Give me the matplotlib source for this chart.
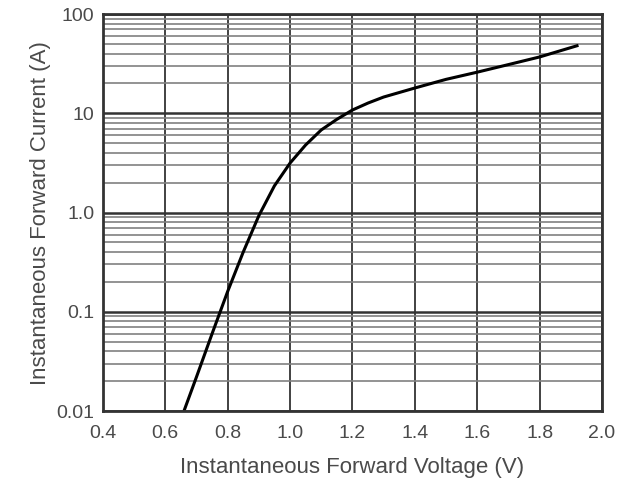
"""Forward voltage vs forward current (semilog)."""
import matplotlib
matplotlib.use("Agg")
from matplotlib import pyplot as plt
from matplotlib.ticker import LogLocator, FixedLocator, NullFormatter

# curve
voltage = [0.66, 0.70, 0.75, 0.80, 0.85, 0.90, 0.95, 1.00, 1.05, 1.10,
           1.15, 1.20, 1.25, 1.30, 1.40, 1.50, 1.60, 1.70, 1.80, 1.92]
current = [0.01, 0.022, 0.06, 0.16, 0.40, 0.93, 1.86, 3.15, 4.8, 6.8,
           8.7, 10.8, 12.7, 14.6, 18.0, 22.0, 26.0, 31.0, 37.0, 48.0]

x_ticks = [0.4, 0.6, 0.8, 1.0, 1.2, 1.4, 1.6, 1.8, 2.0]
x_labels = ["0.4", "0.6", "0.8", "1.0", "1.2", "1.4", "1.6", "1.8", "2.0"]
y_ticks = [0.01, 0.1, 1.0, 10, 100]
y_labels = ["0.01", "0.1", "1.0", "10", "100"]

plt.rcParams["font.family"] = ["Liberation Sans", "DejaVu Sans"]
text_color = "#4a4a4a"

fig = plt.figure(figsize=(6.31, 4.87), dpi=100)
ax = fig.add_axes([0.163, 0.156, 0.791, 0.815])

ax.set_yscale("log")
ax.set_xlim(0.4, 2.0)
ax.set_ylim(0.01, 100)

ax.xaxis.set_major_locator(FixedLocator(x_ticks))
ax.set_xticklabels(x_labels)
ax.yaxis.set_major_locator(FixedLocator(y_ticks))
ax.set_yticklabels(y_labels)
ax.yaxis.set_minor_locator(LogLocator(base=10, subs=range(2, 10)))
ax.yaxis.set_minor_formatter(NullFormatter())

ax.grid(True, axis="x", which="major", color="#333333", lw=1.3)
ax.grid(True, axis="y", which="major", color="#333333", lw=1.8)
ax.grid(True, axis="y", which="minor", color="#808080", lw=1.2)
ax.set_axisbelow(True)

ax.plot(voltage, current, color="black", lw=2.2, solid_joinstyle="round")

ax.tick_params(which="both", length=0, labelsize=14, colors=text_color)
ax.tick_params(axis="x", pad=10)
ax.tick_params(axis="y", pad=6)
for spine in ax.spines.values():
    spine.set_linewidth(2)
    spine.set_color("#333333")

ax.set_xlabel("Instantaneous Forward Voltage (V)", fontsize=16, color=text_color, labelpad=11)
ax.set_ylabel("Instantaneous Forward Current (A)", fontsize=16, color=text_color, labelpad=4)

fig.savefig("out.png", dpi=100)
plt.close(fig)
